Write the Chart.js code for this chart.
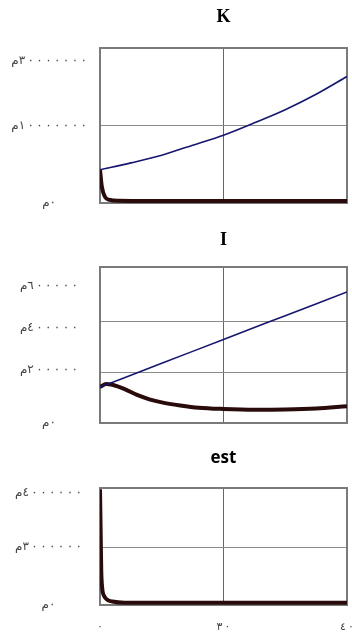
<!DOCTYPE html>
<html>
<head>
<meta charset="utf-8">
<script src="https://cdn.jsdelivr.net/npm/chart.js@4.4.1/dist/chart.umd.min.js"></script>
<style>
  body { margin: 0; background: #fff; width: 352px; height: 640px; overflow: hidden; position: relative; }
  .panel { position: absolute; left: 0; width: 352px; }
</style>
</head>
<body>
<div class="panel" style="top:0"><canvas id="k-chart" width="352" height="215"></canvas></div>
<div class="panel" style="top:215px"><canvas id="i-chart" width="352" height="215"></canvas></div>
<div class="panel" style="top:430px"><canvas id="est-chart" width="352" height="210"></canvas></div>
<script>
// time axis (shared)
const xMin = 0;
const xMax = 40;
const xGridTicks = [0, 20, 40];
const xTickLabels = ['٠', '٣٠', '٤٠'];

// K panel (values in millions)
const kTimeA = [0, 5, 10, 15, 20, 25, 30, 35, 40];
const kSeriesA = [43, 52, 62, 75, 88, 104, 121, 141, 164];
const kTimeB = [0, 0.3, 0.8, 1.6, 3, 6, 10, 20, 30, 40];
const kSeriesB = [43, 21, 8, 4, 2.8, 2.6, 2.6, 2.6, 2.6, 2.6];
const kGridTicks = [0, 100, 201];
const kLabelTicks = [0, 100, 184];
const kTickLabels = ['م٠', 'م١٠٠٠٠٠٠٠', 'م٣٠٠٠٠٠٠٠'];

// I panel (values in thousands)
const iTimeA = [0, 10, 20, 30, 40];
const iSeriesA = [141, 234, 328, 421, 514];
const iTimeB = [0, 1, 2, 4, 6, 8, 10, 13, 16, 20, 25, 30, 35, 40];
const iSeriesB = [141, 153, 150, 133, 110, 93, 81, 69, 60, 55, 52, 53, 57, 66];
const iGridTicks = [0, 200, 400, 612];
const iLabelTicks = [0, 208, 373, 537];
const iTickLabels = ['م٠', 'م٢٠٠٠٠٠', 'م٤٠٠٠٠٠', 'م٦٠٠٠٠٠'];

// est panel
const estTime = [0, 0.1, 0.2, 0.35, 0.7, 1.2, 2, 4, 10, 20, 30, 40];
const estSeries = [2.0, 1.3, 0.6, 0.3, 0.15, 0.09, 0.06, 0.04, 0.04, 0.04, 0.04, 0.04];
const estGridTicks = [0, 1, 2.02];
const estLabelTicks = [0, 1, 1.93];
const estTickLabels = ['م٠', 'م٣٠٠٠٠٠٠', 'م٤٠٠٠٠٠٠'];

const blueLine = '#16166e';
const darkLine = '#2a0b0b';

// letterSpacing is ignored for arabic text, so space the digits with thin spaces
// and keep everything in left-to-right order
function spaced(s) {
  const chars = [...s];
  const head = chars[0] === 'م' ? chars.splice(0, 2).join('') : '';
  return '\u202D' + [head, ...chars].filter(c => c).join('\u2009') + '\u202C';
}

const panelTitle = {
  id: 'panelTitle',
  afterDraw(chart, args, opts) {
    const { ctx, chartArea } = chart;
    ctx.save();
    ctx.font = opts.font;
    ctx.fillStyle = '#000';
    ctx.textAlign = 'center';
    ctx.textBaseline = 'middle';
    ctx.fillText(opts.text, (chartArea.left + chartArea.right) / 2, opts.y);
    ctx.restore();
  }
};

// grey frame round the plot
const plotBox = {
  id: 'plotBox',
  beforeDatasetsDraw(chart) {
    const { ctx, chartArea } = chart;
    ctx.save();
    ctx.strokeStyle = '#7a7a7a';
    ctx.lineWidth = 2;
    ctx.strokeRect(chartArea.left, chartArea.top, chartArea.right - chartArea.left, chartArea.bottom - chartArea.top);
    ctx.restore();
  }
};

function noPadding(s) {
  s.paddingTop = 0;
  s.paddingBottom = 0;
  s.paddingLeft = 0;
  s.paddingRight = 0;
}

function toPoints(xs, ys) {
  return xs.map((x, i) => ({ x: x, y: ys[i] }));
}

function makePanel(id, p) {
  const ctx = document.getElementById(id).getContext('2d');
  return new Chart(ctx, {
    type: 'line',
    data: {
      datasets: p.datasets.map(d => ({
        data: toPoints(d.xs, d.ys),
        borderColor: d.color,
        borderWidth: d.width,
        pointRadius: 0,
        fill: false,
        cubicInterpolationMode: 'monotone'
      }))
    },
    options: {
      responsive: false,
      animation: false,
      layout: { padding: { top: p.top, bottom: p.bottom, left: 0, right: 5 } },
      plugins: {
        legend: { display: false },
        tooltip: { enabled: false },
        panelTitle: { text: p.title, font: p.titleFont, y: p.titleY }
      },
      scales: {
        x: {
          type: 'linear', min: xMin, max: xMax,
          border: { display: false },
          grid: { color: '#666', drawTicks: false },
          ticks: {
            display: p.showX, padding: 16, autoSkip: false, maxRotation: 0,
            font: { family: 'DejaVu Sans', size: 11 }, color: '#444',
            callback: (v, i) => spaced(xTickLabels[i])
          },
          afterBuildTicks: s => { s.ticks = xGridTicks.map(v => ({ value: v })); },
          afterFit: s => { s.height = p.xHeight; noPadding(s); }
        },
        y: {
          type: 'linear', min: 0, max: p.yMax,
          border: { display: false },
          grid: { color: '#8a8a8a', drawTicks: false },
          ticks: { display: false },
          afterBuildTicks: s => { s.ticks = p.gridTicks.map(v => ({ value: v })); },
          afterFit: s => { s.width = 0; noPadding(s); }
        },
        yl: {
          type: 'linear', position: 'left', min: 0, max: p.yMax,
          border: { display: false },
          grid: { display: false, drawTicks: false },
          ticks: {
            padding: p.labelPad, crossAlign: 'center', autoSkip: false,
            font: { family: 'DejaVu Sans', size: 12 }, color: '#444',
            callback: (v, i) => spaced(p.tickLabels[i])
          },
          afterBuildTicks: s => { s.ticks = p.labelTicks.map(v => ({ value: v })); },
          afterFit: s => { s.width = 100; noPadding(s); }
        }
      }
    },
    plugins: [plotBox, panelTitle]
  });
}

makePanel('k-chart', {
  title: 'K', titleFont: 'bold 18px "Liberation Serif"', titleY: 17,
  top: 48, bottom: 12, xHeight: 0, showX: false, labelPad: 13,
  yMax: 201, gridTicks: kGridTicks, labelTicks: kLabelTicks, tickLabels: kTickLabels,
  datasets: [
    { xs: kTimeA, ys: kSeriesA, color: blueLine, width: 1.6 },
    { xs: kTimeB, ys: kSeriesB, color: darkLine, width: 4 }
  ]
});

makePanel('i-chart', {
  title: 'I', titleFont: 'bold 18px "Liberation Serif"', titleY: 25,
  top: 52, bottom: 7, xHeight: 0, showX: false, labelPad: 22,
  yMax: 612, gridTicks: iGridTicks, labelTicks: iLabelTicks, tickLabels: iTickLabels,
  datasets: [
    { xs: iTimeA, ys: iSeriesA, color: blueLine, width: 1.6 },
    { xs: iTimeB, ys: iSeriesB, color: darkLine, width: 4 }
  ]
});

makePanel('est-chart', {
  title: 'est', titleFont: 'bold 17px "Open Sans"', titleY: 28,
  top: 58, bottom: 0, xHeight: 35, showX: true, labelPad: 18,
  yMax: 2.02, gridTicks: estGridTicks, labelTicks: estLabelTicks, tickLabels: estTickLabels,
  datasets: [
    { xs: estTime, ys: estSeries, color: darkLine, width: 4 }
  ]
});
</script>
</body>
</html>
